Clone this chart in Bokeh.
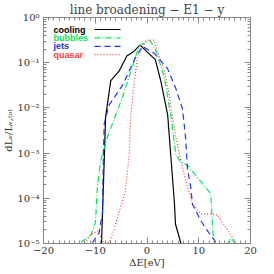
import numpy as np
from bokeh.plotting import figure
from bokeh.models import (Range1d, LinearAxis, LogAxis, SingleIntervalTicker, LogTicker,
                          CustomJSTickFormatter, Label, Arrow)
from bokeh.embed import file_html
from bokeh.resources import INLINE

# ---- data ----
cool_x = [-8.8, -8.0, -7.0, -5.4, -3.9, -2.5, -1.35, 1.6, 2.7, 4.0, 5.3, 5.5, 6.7]
cool_y = [8.9e-6, 6.3e-3, 4.0e-2, 6.5e-2, 0.14, 0.18, 0.245, 0.117, 0.038, 6.9e-3, 7.9e-5, 2.7e-5, 8.9e-6]

bub_x = [-13.3, -12.85, -10.86, -9.95, -9.57, -8.93, -7.63, -4.73, -1.5, 0.6, 1.7, 3.32, 4.6,
         5.57, 6.53, 7.83, 10.72, 12.33, 12.66, 13.04, 14.2, 15.23, 16.19, 17.49, 18.5]
bub_y = [6.3e-6, 1.05e-5, 1.5e-5, 3.0e-5, 1.95e-4, 6.9e-4, 2.3e-3, 0.0174, 0.24, 0.31, 0.19,
         0.049, 6.9e-3, 9.5e-4, 6.3e-4, 5.4e-4, 2.1e-4, 1.26e-4, 2.3e-5, 8.1e-6, 2.5e-6,
         9.1e-6, 1.29e-5, 9.1e-6, 2.5e-6]

jet_x = [-11.0, -10.5, -9.24, -8.6, -8.45, -8.27, -7.3, -4.73, -2.16, -0.87, 1.39, 3.96, 5.57,
         6.86, 7.44, 7.83, 8.46, 8.79, 10.4, 11.69, 13.62, 14.2]
jet_y = [6.3e-6, 1.05e-5, 1.74e-5, 4.9e-5, 6.3e-4, 4.5e-3, 0.0117, 0.0316, 0.135, 0.229, 0.162,
         0.074, 0.0269, 9.5e-3, 2.3e-3, 4.4e-4, 1.74e-4, 7.4e-5, 3.2e-5, 1.9e-5, 9.5e-6, 6.3e-6]

qua_x = [-12.2, -11.88, -11.17, -9.57, -8.4, -7.25, -6.34, -4.2, -3.44, -3.13, -2.47, -1.84,
         -0.23, 1.39, 2.03, 3.38, 4.15, 4.93, 5.57, 6.53, 7.5, 8.79, 10.4, 12.66, 13.62, 15.23,
         16.52, 17.3, 17.8]
qua_y = [6.3e-6, 1.0e-5, 1.48e-5, 1.9e-5, 1.05e-5, 1.05e-5, 2.1e-5, 1.4e-4, 9.1e-4, 6.9e-3,
         0.038, 0.126, 0.316, 0.316, 0.174, 0.063, 0.0229, 6.3e-3, 2.3e-3, 6.9e-4, 2.45e-4,
         7.4e-5, 4.5e-5, 4.5e-5, 4.2e-5, 2.3e-5, 1.35e-5, 9.5e-6, 6.3e-6]

series_names = ["cooling", "bubbles", "jets", "quasar"]
series_colors = ["#000000", "#00e85a", "#1a33ff", "#ff3a3a"]
series_dash = ["solid", "6 2 1 2", "6 4", "1 2"]
x_ticks_interval = 10
title_text = "line broadening \u2212 E1 \u2212 y"

W, H = 258, 270
BL, BR, BB = 43, 8, 25

p = figure(width=W, height=H, x_range=Range1d(-20, 20), y_range=Range1d(1e-5, 1),
           y_axis_type="log", output_backend="svg", toolbar_location=None,
           min_border_left=BL, min_border_right=BR, min_border_top=0, min_border_bottom=BB)
p.xgrid.visible = False
p.ygrid.visible = False
p.outline_line_color = "#888888"
p.background_fill_color = "white"

AX = "#888888"
TXT = "#333333"
FONT = "DejaVu Serif"

p.title.text = title_text
p.title.align = "center"
p.title.text_font = FONT
p.title.text_font_size = "12px"
p.title.text_font_style = "normal"
p.title.text_color = "#444444"
p.title.standoff = 1
p.title.offset = 0

xfmt = CustomJSTickFormatter(code="return tick < 0 ? '\\u2212' + Math.abs(tick) : '' + tick;")
yfmt = CustomJSTickFormatter(code="""
const sup = {'-':'\\u207b','0':'\\u2070','1':'\\u00b9','2':'\\u00b2','3':'\\u00b3','4':'\\u2074','5':'\\u2075','6':'\\u2076','7':'\\u2077','8':'\\u2078','9':'\\u2079'};
const e = Math.round(Math.log10(tick));
return '10' + String(e).split('').map(c => sup[c]).join('');
""")
blank = CustomJSTickFormatter(code="return '';")

def style(ax, fmt):
    ax.formatter = fmt
    ax.axis_line_color = AX
    ax.major_tick_line_color = AX
    ax.minor_tick_line_color = AX
    ax.major_tick_in = 6
    ax.major_tick_out = 0
    ax.minor_tick_in = 3
    ax.minor_tick_out = 0
    ax.major_label_text_font = FONT
    ax.major_label_text_font_size = "10px"
    ax.major_label_text_color = TXT
    ax.axis_label_text_font = FONT
    ax.axis_label_text_font_size = "10px"
    ax.axis_label_text_font_style = "normal"
    ax.axis_label_text_color = TXT

xt = SingleIntervalTicker(interval=x_ticks_interval, num_minor_ticks=10)
yt = LogTicker(num_minor_ticks=10)

xb = p.xaxis[0]
xb.ticker = xt
style(xb, xfmt)
xb.major_label_standoff = 3
xb.axis_label = "\u0394E[eV]"
xb.axis_label_standoff = 0

yl = p.yaxis[0]
yl.ticker = yt
style(yl, yfmt)
yl.major_label_standoff = 4
yl.axis_label = "dL\u1d65/L\u1d65,\u209c\u2092\u209c"
yl.axis_label_standoff = 0

xtop = LinearAxis(ticker=SingleIntervalTicker(interval=x_ticks_interval, num_minor_ticks=10))
style(xtop, blank)
xtop.major_label_standoff = 0
xtop.major_label_text_font_size = "0px"
p.add_layout(xtop, "above")

yright = LogAxis(ticker=LogTicker(num_minor_ticks=10))
style(yright, blank)
yright.major_label_standoff = 0
yright.major_label_text_font_size = "0px"
p.add_layout(yright, "right")

all_x = [cool_x, bub_x, jet_x, qua_x]
all_y = [cool_y, bub_y, jet_y, qua_y]
for xs, ys, c, d in zip(all_x, all_y, series_colors, series_dash):
    p.line(xs, ys, line_color=c, line_width=1.2, line_dash=d)

# legend (text left, line sample right); placed from the frame top downwards
FH_EST = 225
for i, (n, c, d) in enumerate(zip(series_names, series_colors, series_dash)):
    yy = FH_EST - 11 - 8.4 * i
    p.add_layout(Label(x=10, y=yy, x_units="screen", y_units="screen", text=n,
                       text_align="left", text_baseline="middle", text_font="Liberation Sans",
                       text_font_style="bold", text_font_size="9px", text_color=c))
    p.add_layout(Arrow(x_start=51, y_start=yy, x_end=77, y_end=yy, start_units="screen",
                       end_units="screen", end=None, line_color=c, line_width=1.2, line_dash=d))

open("out.html", "w").write(file_html(p, INLINE))
